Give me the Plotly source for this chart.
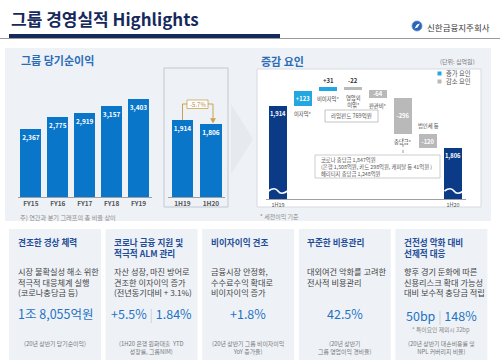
import plotly.graph_objects as go

W, H = 500, 363
FONT = "Noto Sans CJK KR"

def X(p):
    return p / W

def Y(p):
    return 1 - p / H

# ---------------- data ----------------
fy_years = ["FY15", "FY16", "FY17", "FY18", "FY19"]
fy_profit = [2367, 2775, 2919, 3157, 3403]

half_periods = ["1H19", "1H20"]
half_profit = [1914, 1806]
half_change_label = "-5.7%"

wf_start_label = "1H19"
wf_start_value = 1914
wf_factor_names = ["이자익*", "비이자익*", "영업외<br>이익*", "판관비*", "충당금*", "법인세 등"]
wf_factor_values = [123, 31, -22, -64, -296, -120]
wf_end_label = "1H20"
wf_end_value = 1806

card_titles = ["견조한 경상 체력", "코로나 금융 지원 및<br>적극적 ALM 관리", "비이자이익 견조",
               "꾸준한 비용관리", "건전성 악화 대비<br>선제적 대응"]
card_bodies = ["시장 불확실성 해소 위한<br>적극적 대응체계 실행<br>(코로나충당금 등)",
               "자산 성장, 마진 방어로<br>견조한 이자이익 증가<br>(전년동기대비 + 3.1%)",
               "금융시장 안정화,<br>수수료수익 확대로<br>비이자이익 증가",
               "대외여건 악화를 고려한<br>전사적 비용관리",
               "향후 경기 둔화에 따른<br>신용리스크 확대 가능성<br>대비 보수적 충당금 적립"]
card_figures = [["1조 8,055억원"], ["+5.5%", "1.84%"], ["+1.8%"], ["42.5%"], ["50bp", "148%"]]
card_subnotes = ["", "", "", "", "* 특이요인 제외시 32bp"]
card_notes = ["(20년 상반기 당기순이익)",
              "(1H20 은행 원화대출  YTD<br>성장률, 그룹NIM)",
              "(20년 상반기 그룹 비이자이익<br>YoY 증가율)",
              "(20년 상반기<br>그룹 영업이익 경비율)",
              "(20년 상반기 대손비용률 및<br>NPL 커버리지 비율)"]
note_lime = "라임펀드 769억원"
note_corona = ["코로나 충당금 1,847억원",
               "(은행 1,508억원, 카드 298억원, 캐피탈 등 41억원 )",
               "헤리티지 충당금 1,248억원"]

# ---------------- styles ----------------
NAVY = "#16295c"
BLUE_T = "#2a6cb8"
FY_BLUE = "#0a76c9"
WF_NAVY = "#0b3a87"
CYAN = "#22a7e2"
GREY_B = "#b9b9b9"
PANEL = "#eef2f7"
GOLD = "#c9a24e"
wf_label_outside = [False, True, True, False, False, False]
wf_name_above = [False, False, False, False, False, True]

fig = go.Figure()

# FY bars
fig.add_trace(go.Bar(
    x=fy_years, y=fy_profit, xaxis="x", yaxis="y",
    marker=dict(color=FY_BLUE, line=dict(width=0)), width=0.78,
    text=[f"{v:,}" for v in fy_profit], textposition="inside", insidetextanchor="end",
    textangle=0, constraintext="none",
    textfont=dict(family=FONT, size=6.5, color="white", weight="bold"),
    hoverinfo="skip"))

# half-year bars
fig.add_trace(go.Bar(
    x=half_periods, y=half_profit, xaxis="x2", yaxis="y2",
    marker=dict(color=FY_BLUE, line=dict(width=0)), width=0.74,
    text=[f"{v:,}" for v in half_profit], textposition="inside", insidetextanchor="end",
    textangle=0, constraintext="none",
    textfont=dict(family=FONT, size=6.5, color="white", weight="bold"),
    hoverinfo="skip"))

# waterfall
levels = []
lvl = wf_start_value
for v in wf_factor_values:
    levels.append(lvl)
    lvl += v
wf_final_level = lvl
wf_cats = [wf_start_label] + wf_factor_names + [wf_end_label]

fig.add_trace(go.Bar(
    x=[wf_start_label, wf_end_label], y=[wf_start_value, wf_final_level],
    xaxis="x3", yaxis="y3", width=0.72,
    marker=dict(color=WF_NAVY, line=dict(width=0)),
    text=[f"{wf_start_value:,}", f"{wf_end_value:,}"], textposition="inside",
    insidetextanchor="end", textangle=0, constraintext="none",
    textfont=dict(family=FONT, size=5.8, color="white", weight="bold"),
    hoverinfo="skip"))

fig.add_trace(go.Bar(
    x=wf_factor_names, y=wf_factor_values, base=levels,
    xaxis="x3", yaxis="y3", width=0.7,
    marker=dict(color=[CYAN if v > 0 else GREY_B for v in wf_factor_values], line=dict(width=0)),
    text=["" if o else f"{v:+d}" for v, o in zip(wf_factor_values, wf_label_outside)],
    textposition="inside", insidetextanchor="middle", textangle=0, constraintext="none",
    textfont=dict(family=FONT, size=5.8, color="white", weight="bold"),
    hoverinfo="skip"))

ann = []

def txt(s, px, py, size, color, xa="left", ya="middle", bold=False, align="left"):
    ann.append(dict(text=s, x=X(px), y=Y(py), xref="paper", yref="paper",
                    xanchor=xa, yanchor=ya, showarrow=False, align=align,
                    font=dict(family=FONT, size=size, color=color,
                              weight="bold" if bold else "normal")))

for v, name, lo, lvl0, above in zip(wf_factor_values, wf_factor_names, wf_label_outside, levels, wf_name_above):
    top = max(lvl0, lvl0 + v)
    bot = min(lvl0, lvl0 + v)
    if lo:
        ann.append(dict(text=f"{v:+d}", x=name, y=top, xref="x3", yref="y3",
                        yanchor="bottom", yshift=0, showarrow=False,
                        font=dict(family=FONT, size=6, color="#333", weight="bold")))
    if above:
        ann.append(dict(text=name, x=name, y=top, xref="x3", yref="y3",
                        yanchor="bottom", yshift=2, showarrow=False,
                        font=dict(family=FONT, size=5.3, color="#444")))
    else:
        ann.append(dict(text=name, x=name, y=bot, xref="x3", yref="y3",
                        yanchor="top", yshift=-2, showarrow=False,
                        font=dict(family=FONT, size=5.3, color="#444")))

# ---------------- shapes ----------------
shapes = []

def rect(x0, y0, x1, y1, fill, line=None, lw=0, layer="below"):
    shapes.append(dict(type="rect", xref="paper", yref="paper",
                       x0=X(x0), x1=X(x1), y0=Y(y1), y1=Y(y0),
                       fillcolor=fill, line=dict(color=line or fill, width=lw), layer=layer))

def line(x0, y0, x1, y1, color, w=1, dash="solid", layer="above"):
    shapes.append(dict(type="line", xref="paper", yref="paper",
                       x0=X(x0), x1=X(x1), y0=Y(y0), y1=Y(y1),
                       line=dict(color=color, width=w, dash=dash), layer=layer))

def path(pts, fill=None, color=None, w=1, layer="above", closed=True):
    d = "M " + " L ".join(f"{X(a):.5f},{Y(b):.5f}" for a, b in pts) + (" Z" if closed else "")
    shapes.append(dict(type="path", xref="paper", yref="paper", path=d,
                       fillcolor=fill or "rgba(0,0,0,0)",
                       line=dict(color=color or "rgba(0,0,0,0)", width=w), layer=layer))

# header
line(0, 38.5, 500, 38.5, "#9a9a9a", 1)
rect(9, 34, 280, 38, NAVY, layer="above")
txt("그룹 경영실적 Highlights", 9, 18, 17, NAVY, bold=True)
shapes.append(dict(type="circle", xref="paper", yref="paper",
                   x0=X(412), x1=X(422), y0=Y(31), y1=Y(21),
                   fillcolor="#2a64b4", line=dict(color="#5b8fd6", width=0.8), layer="above"))
path([(414.5, 28.5), (417, 24.5), (420, 23.5), (417.5, 27.5)], fill="white", layer="above")
txt("신한금융지주회사", 425, 26.5, 8.5, "#3a3a3a")

# top panel
rect(5, 48, 491, 221, PANEL)
txt("그룹 당기순이익", 19, 60, 11, BLUE_T, bold=True)
txt("주) 연간과 분기 그래프의 총 비율 상이", 18, 217, 6.2, "#8a8a8a")

# half-year box
rect(164, 68, 228, 207, "rgba(0,0,0,0)", "#c3c8cf", 1)
# bracket
path([(182.5, 120), (182.5, 104), (213, 104), (213, 119)], color=GOLD, w=1, closed=False)
path([(210.5, 118.5), (215.5, 118.5), (213, 123)], fill=GOLD, color=GOLD, w=0.5)
rect(187, 100, 208, 108.5, "white", GOLD, 0.8, layer="above")
txt(half_change_label, 197.5, 104.5, 6, "#b58a3a", xa="center")

# chevron
path([(231, 104), (253, 139), (231, 174)], fill="#e6e9ee", layer="below")

# waterfall box
rect(257, 69, 481, 207, "white", "#d6dae0", 1)
txt("증감 요인", 259, 61, 11, BLUE_T, bold=True)
txt("(단위: 십억원)", 477, 61, 6, "#7a7a7a", xa="right")
rect(437.5, 71.5, 441.5, 75.5, CYAN, layer="above")
rect(437.5, 79.5, 441.5, 83.5, GREY_B, layer="above")
txt("증가 요인", 443.5, 73.5, 6.3, "#555")
txt("감소 요인", 443.5, 81.5, 6.3, "#555")
txt("* 세전이익 기준", 258, 216, 6, "#8a8a8a")

# lime fund note
line(354, 99.5, 354, 110, "#9a9a9a", 1, "dot")
rect(325, 110, 378, 122, "white", "#b5b5b5", 0.8, layer="above")
txt(note_lime, 351.5, 116, 5.5, "#555", xa="center")
# corona note
line(403, 138, 403, 155, "#9a9a9a", 1, "dot")
rect(315, 155, 440, 178, "white", "#c2c2c2", 0.8, layer="above")
txt("<br>".join(note_corona), 319, 166.5, 5.3, "#555")

# broken-axis waves on navy bars
for cx in (278, 454):
    x0, x1 = cx - 9.5, cx + 9.5
    d = (f"M {X(x0):.5f},{Y(191):.5f} C {X(x0+4):.5f},{Y(188):.5f} {X(cx-2):.5f},{Y(188):.5f} {X(cx):.5f},{Y(191):.5f}"
         f" S {X(x1-4):.5f},{Y(194):.5f} {X(x1):.5f},{Y(191):.5f}")
    shapes.append(dict(type="path", xref="paper", yref="paper", path=d,
                       line=dict(color="white", width=1.6), layer="above"))

# cards
for i in range(5):
    left = 9 + 96.6 * i
    rect(left, 229, left + 92, 360, PANEL)
    txt(card_titles[i], left + 6.5, 234, 8.6, "#1f4d98", ya="top", bold=True)
    txt(card_bodies[i], left + 6.5, 262.5, 8.2, "#444", ya="top")
    fig_txt = "<span style='color:#c8ccd3'> | </span>".join(card_figures[i])
    fy = 315 if card_subnotes[i] else 313
    txt(fig_txt, left + 46, fy, 12.5, "#1f72c4", xa="center", align="center")
    if card_subnotes[i]:
        txt(card_subnotes[i], left + 46, 329, 5.8, "#888", xa="center", align="center")
    txt(card_notes[i], left + 46, 337, 5.9, "#777", xa="center", ya="top", align="center")

axis_common = dict(showgrid=False, zeroline=False, fixedrange=True)

fig.update_layout(
    width=W, height=H, margin=dict(l=0, r=0, t=0, b=0),
    paper_bgcolor="white", plot_bgcolor="rgba(0,0,0,0)",
    showlegend=False, barmode="overlay", bargap=0,
    annotations=ann, shapes=shapes,
    xaxis=dict(domain=[X(17.5), X(152)], type="category", showline=True, linecolor="#a0a0a0",
               linewidth=1, ticks="", tickfont=dict(family=FONT, size=6.5, color="#555", weight="bold"),
               anchor="y", **axis_common),
    yaxis=dict(domain=[Y(197), Y(72)], range=[0, 4340], visible=False, anchor="x", **axis_common),
    xaxis2=dict(domain=[X(168.25), X(225.25)], type="category", showline=True, linecolor="#a0a0a0",
                linewidth=1, ticks="", tickfont=dict(family=FONT, size=6.5, color="#555", weight="bold"),
                anchor="y2", **axis_common),
    yaxis2=dict(domain=[Y(197), Y(72)], range=[0, 3109], visible=False, anchor="x2", **axis_common),
    xaxis3=dict(domain=[X(265.5), X(465.5)], type="category", categoryorder="array",
                categoryarray=wf_cats, tickvals=[wf_start_label, wf_end_label],
                showline=True, linecolor="#a0a0a0", linewidth=1, ticks="",
                tickfont=dict(family=FONT, size=5.5, color="#555"), anchor="y3", **axis_common),
    yaxis3=dict(domain=[Y(199), Y(72)], range=[1152, 2193], visible=False, anchor="x3", **axis_common),
)

fig.write_html("out.html", config={"displayModeBar": False, "staticPlot": True},
               post_script="document.body.style.margin='0';document.body.style.overflow='hidden';")
